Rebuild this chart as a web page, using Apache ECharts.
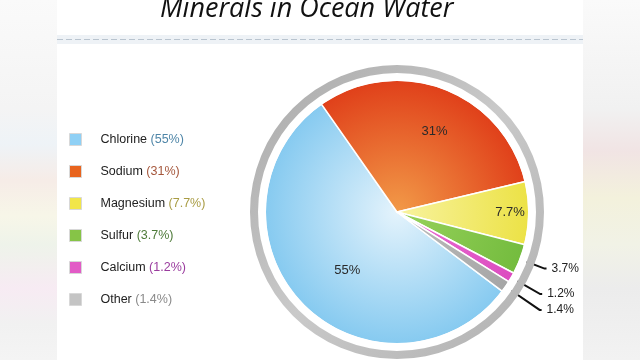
<!DOCTYPE html>
<html>
<head>
<meta charset="utf-8">
<script src="https://cdn.jsdelivr.net/npm/echarts@6/dist/echarts.min.js"></script>
<style>
  html, body { margin: 0; padding: 0; background: #fff; }
  #chart { width: 640px; height: 360px; }
</style>
</head>
<body>
<div id="chart"></div>
<script>
// data
const minerals = ['Chlorine', 'Sodium', 'Magnesium', 'Sulfur', 'Calcium', 'Other'];
const shares = [55, 31, 7.7, 3.7, 1.2, 1.4];
const shareLabels = ['55%', '31%', '7.7%', '3.7%', '1.2%', '1.4%'];

// styling
const flatColors = ['#8fd0f5', '#e8641e', '#f1e64a', '#86c447', '#e25bc6', '#c4c4c4'];
const innerColors = ['#e4f3fc', '#f29a48', '#f8f3a0', '#98d25c', '#ea6fd2', '#bcbcbc'];
const edgeColors = ['#86caf0', '#e0401a', '#ece246', '#74bc3e', '#dc4cc0', '#a6a6a6'];
const pctColors = ['#4f86a8', '#a5573c', '#a99c44', '#4d7a38', '#9a3c9e', '#8a8a8a'];
const insideOffsets = [[0, 10], [13, -16], [44, 0]];
const arrowLengths = [26, 33, 41];

const cx = 397, cy = 212, R = 132;

const chart = echarts.init(document.getElementById('chart'), null, { renderer: 'canvas' });

const pieData = minerals.map((name, i) => {
  const item = {
    name,
    value: shares[i],
    itemStyle: {
      color: {
        type: 'radial', x: cx, y: cy, r: R, global: true,
        colorStops: [{ offset: 0, color: innerColors[i] }, { offset: 1, color: edgeColors[i] }]
      }
    }
  };
  if (i < 3) {
    item.label = { position: 'inside', offset: insideOffsets[i], fontSize: 13, color: '#2a2a2a' };
    item.labelLine = { show: false };
  } else {
    item.labelLine = { length: arrowLengths[i - 3] };
  }
  return item;
});

const rich = {};
pctColors.forEach((c, i) => { rich['p' + i] = { color: c, fontSize: 12.5, fontFamily: 'Liberation Sans' }; });

const option = {
  backgroundColor: '#ffffff',
  animation: false,
  graphic: [
    {
      type: 'rect', left: 0, top: 0, z: -10, silent: true,
      shape: { width: 57, height: 360 },
      style: {
        fill: {
          type: 'linear', x: 0, y: 0, x2: 0, y2: 1,
          colorStops: [
            { offset: 0, color: '#fafafa' }, { offset: 0.3, color: '#f4f4f4' },
            { offset: 0.4, color: '#eef3f7' }, { offset: 0.5, color: '#f6ece7' },
            { offset: 0.6, color: '#f7f6e8' }, { offset: 0.68, color: '#eef3ea' },
            { offset: 0.8, color: '#f7ebf3' }, { offset: 0.9, color: '#f1f1f1' },
            { offset: 1, color: '#f4f4f4' }
          ]
        }
      }
    },
    {
      type: 'rect', left: 583, top: 0, z: -10, silent: true,
      shape: { width: 57, height: 360 },
      style: {
        fill: {
          type: 'linear', x: 0, y: 0, x2: 0, y2: 1,
          colorStops: [
            { offset: 0, color: '#fafafa' }, { offset: 0.3, color: '#f1f1f1' },
            { offset: 0.42, color: '#f1e4e4' }, { offset: 0.55, color: '#f3f1dc' },
            { offset: 0.68, color: '#f1f2e6' }, { offset: 0.8, color: '#ececec' },
            { offset: 1, color: '#f2f2f2' }
          ]
        }
      }
    },
    {
      type: 'rect', left: 57, top: 35, z: -5, silent: true,
      shape: { width: 526, height: 9 },
      style: { fill: '#eef2f6' }
    },
    {
      type: 'line', silent: true, z: -4,
      shape: { x1: 57, y1: 39.5, x2: 583, y2: 39.5 },
      style: { stroke: '#b9c4cf', lineWidth: 1, lineDash: [6, 3] }
    },
    {
      type: 'text', left: 160, top: -4,
      style: {
        text: 'Minerals in Ocean Water',
        font: 'italic 27px "Open Sans", sans-serif',
        fill: '#111'
      }
    }
  ],
  legend: {
    orient: 'vertical',
    left: 64,
    top: 128,
    itemWidth: 12,
    itemHeight: 12,
    itemGap: 19,
    icon: 'rect',
    itemStyle: { borderColor: '#d8d8d8', borderWidth: 1 },
    textStyle: {
      fontFamily: 'Liberation Sans',
      fontSize: 12.5,
      color: '#222',
      lineHeight: 12,
      padding: [0, 0, 0, 14],
      rich
    },
    data: minerals.map((name, i) => ({ name, itemStyle: { color: flatColors[i] } })),
    formatter: name => {
      const i = minerals.indexOf(name);
      return name + ' {p' + i + '|(' + shareLabels[i] + ')}';
    }
  },
  series: [
    {
      type: 'pie',
      center: [cx, cy],
      radius: [0, R],
      startAngle: 323,
      clockwise: true,
      avoidLabelOverlap: false,
      labelLayout: { hideOverlap: false },
      z: 2,
      itemStyle: { borderColor: '#ffffff', borderWidth: 1.5 },
      label: {
        show: true,
        position: 'outside',
        formatter: p => shareLabels[p.dataIndex],
        fontFamily: 'Liberation Sans',
        fontSize: 12,
        color: '#222',
        distanceToLabelLine: 5
      },
      labelLine: {
        show: true,
        length: 26,
        length2: 2,
        smooth: false,
        lineStyle: { color: '#111', width: 2 }
      },
      data: pieData
    },
    {
      type: 'pie',
      center: [cx, cy],
      radius: [R - 1, 139],
      silent: true,
      z: 3,
      label: { show: false },
      labelLine: { show: false },
      itemStyle: { color: '#ffffff' },
      data: [{ value: 1, name: 'gap' }]
    },
    {
      type: 'pie',
      center: [cx, cy],
      radius: [139, 147],
      silent: true,
      z: 3,
      label: { show: false },
      labelLine: { show: false },
      itemStyle: {
        color: {
          type: 'linear', x: 0, y: 0, x2: 1, y2: 1,
          colorStops: [{ offset: 0, color: '#a9a9a9' }, { offset: 0.5, color: '#c9c9c9' }, { offset: 1, color: '#b0b0b0' }]
        }
      },
      data: [{ value: 1, name: 'ring' }]
    }
  ]
};

chart.setOption(option);
</script>
</body>
</html>
